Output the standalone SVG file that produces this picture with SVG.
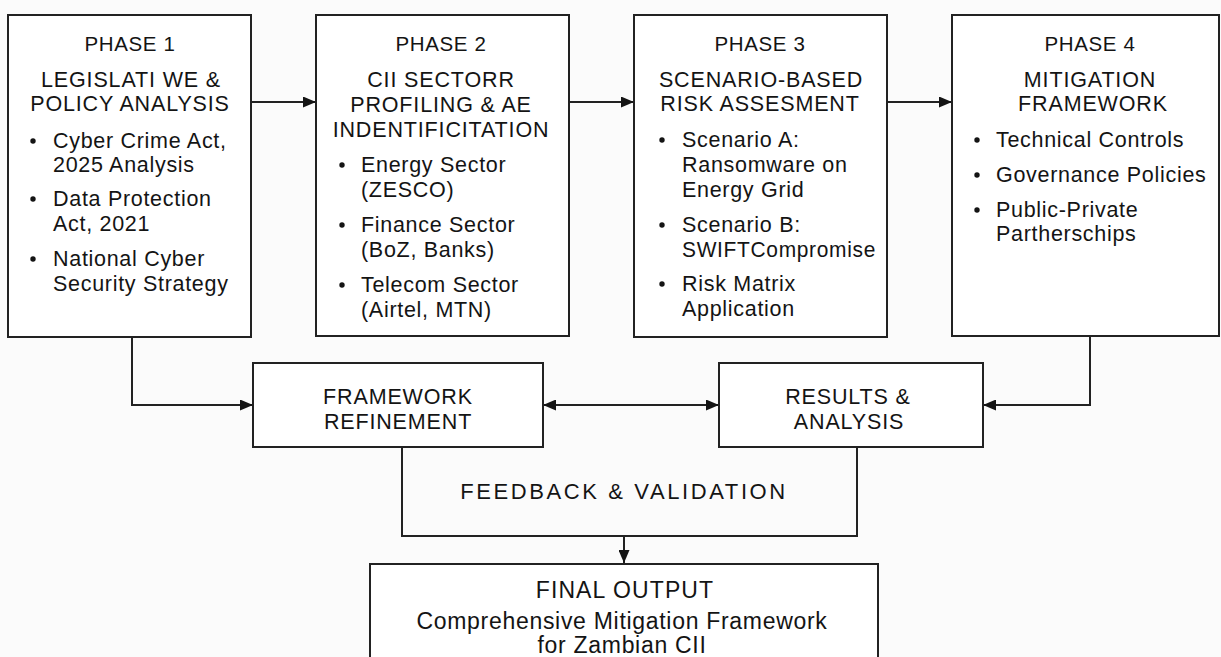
<svg xmlns="http://www.w3.org/2000/svg" width="1221" height="657" viewBox="0 0 1221 657">
  <defs>
    <style>
      .box { fill: #ffffff; stroke: #222222; stroke-width: 2; }
      .wire { fill: none; stroke: #222222; stroke-width: 2; }
      text { font-family: "Liberation Sans", Arial, Helvetica, sans-serif; fill: #141414; }
      .ph { font-size: 20.5px; text-anchor: middle; letter-spacing: 0.6px; }
      .hd { font-size: 21.5px; text-anchor: middle; letter-spacing: 0.85px; }
      .bl { font-size: 21.5px; letter-spacing: 0.7px; }
      .dot { fill: #141414; }
      .fb { font-size: 22px; text-anchor: middle; letter-spacing: 2.6px; }
      .fo { font-size: 23px; text-anchor: middle; letter-spacing: 1.1px; }
      .fo2 { font-size: 23px; text-anchor: middle; letter-spacing: 0.7px; }
    </style>
    <marker id="arr" viewBox="0 0 13 11" refX="13" refY="5.5" markerWidth="13" markerHeight="11" markerUnits="userSpaceOnUse" orient="auto-start-reverse">
      <path d="M0,0 L13,5.5 L0,11 Z" fill="#141414"/>
    </marker>
  </defs>
  <rect width="1221" height="657" fill="#fbfbfb"/>

  <g id="connectors">
    <line class="wire" x1="251" y1="102" x2="316" y2="102" marker-end="url(#arr)"/>
    <line class="wire" x1="569" y1="102" x2="634" y2="102" marker-end="url(#arr)"/>
    <line class="wire" x1="887" y1="102" x2="952" y2="102" marker-end="url(#arr)"/>
    <polyline class="wire" points="132,337 132,405 253,405" marker-end="url(#arr)"/>
    <polyline class="wire" points="1090,336 1090,405 983,405" marker-end="url(#arr)"/>
    <line class="wire" x1="543" y1="405" x2="719" y2="405" marker-start="url(#arr)" marker-end="url(#arr)"/>
    <polyline class="wire" points="402,447 402,536 857,536 857,447"/>
    <line class="wire" x1="624" y1="536" x2="624" y2="563" marker-end="url(#arr)"/>
  </g>

  <g id="phase1">
    <rect class="box" x="8" y="15" width="243" height="322"/>
    <text class="ph" x="130" y="51">PHASE 1</text>
    <text class="hd" x="131" y="87">LEGISLATI WE &amp;</text>
    <text class="hd" x="130" y="111">POLICY ANALYSIS</text>
    <circle class="dot" cx="33" cy="141" r="2.7"/>
    <text class="bl" x="53" y="148">Cyber Crime Act,</text>
    <text class="bl" x="53" y="172">2025 Analysis</text>
    <circle class="dot" cx="33" cy="199" r="2.7"/>
    <text class="bl" x="53" y="206">Data Protection</text>
    <text class="bl" x="53" y="231">Act, 2021</text>
    <circle class="dot" cx="33" cy="259" r="2.7"/>
    <text class="bl" x="53" y="266">National Cyber</text>
    <text class="bl" x="53" y="291">Security Strategy</text>
  </g>

  <g id="phase2">
    <rect class="box" x="316" y="15" width="253" height="321"/>
    <text class="ph" x="441" y="51">PHASE 2</text>
    <text class="hd" x="441" y="87">CII SECTORR</text>
    <text class="hd" x="441" y="112">PROFILING &amp; AE</text>
    <text class="hd" x="441" y="137">INDENTIFICITATION</text>
    <circle class="dot" cx="342" cy="165" r="2.7"/>
    <text class="bl" x="361" y="172">Energy Sector</text>
    <text class="bl" x="361" y="197">(ZESCO)</text>
    <circle class="dot" cx="342" cy="225" r="2.7"/>
    <text class="bl" x="361" y="232">Finance Sector</text>
    <text class="bl" x="361" y="257">(BoZ, Banks)</text>
    <circle class="dot" cx="342" cy="285" r="2.7"/>
    <text class="bl" x="361" y="292">Telecom Sector</text>
    <text class="bl" x="361" y="317">(Airtel, MTN)</text>
  </g>

  <g id="phase3">
    <rect class="box" x="634" y="15" width="253" height="322"/>
    <text class="ph" x="760" y="51">PHASE 3</text>
    <text class="hd" x="761" y="87">SCENARIO-BASED</text>
    <text class="hd" x="760" y="111">RISK ASSESMENT</text>
    <circle class="dot" cx="662" cy="140" r="2.7"/>
    <text class="bl" x="682" y="147">Scenario A:</text>
    <text class="bl" x="682" y="172">Ransomware on</text>
    <text class="bl" x="682" y="197">Energy Grid</text>
    <circle class="dot" cx="662" cy="225" r="2.7"/>
    <text class="bl" x="682" y="232">Scenario B:</text>
    <text class="bl" x="682" y="257" textLength="194" lengthAdjust="spacingAndGlyphs">SWIFTCompromise</text>
    <circle class="dot" cx="662" cy="284" r="2.7"/>
    <text class="bl" x="682" y="291">Risk Matrix</text>
    <text class="bl" x="682" y="316">Application</text>
  </g>

  <g id="phase4">
    <rect class="box" x="952" y="15" width="267" height="321"/>
    <text class="ph" x="1090" y="51">PHASE 4</text>
    <text class="hd" x="1090" y="87">MITIGATION</text>
    <text class="hd" x="1093" y="111">FRAMEWORK</text>
    <circle class="dot" cx="977" cy="140" r="2.7"/>
    <text class="bl" x="996" y="147">Technical Controls</text>
    <circle class="dot" cx="977" cy="175" r="2.7"/>
    <text class="bl" x="996" y="182">Governance Policies</text>
    <circle class="dot" cx="977" cy="210" r="2.7"/>
    <text class="bl" x="996" y="217">Public-Private</text>
    <text class="bl" x="996" y="241">Partherschips</text>
  </g>

  <g id="framework-refinement">
    <rect class="box" x="253" y="363" width="290" height="84"/>
    <text class="hd" x="398" y="404">FRAMEWORK</text>
    <text class="hd" x="398" y="429">REFINEMENT</text>
  </g>

  <g id="results-analysis">
    <rect class="box" x="719" y="363" width="264" height="84"/>
    <text class="hd" x="848" y="404">RESULTS &amp;</text>
    <text class="hd" x="849" y="429">ANALYSIS</text>
  </g>

  <g id="feedback-validation">
    <text class="fb" x="624" y="499">FEEDBACK &amp; VALIDATION</text>
  </g>

  <g id="final-output">
    <rect class="box" x="370" y="564" width="508" height="110"/>
    <text class="fo" x="625" y="598">FINAL OUTPUT</text>
    <text class="fo2" x="622" y="629">Comprehensive Mitigation Framework</text>
    <text class="fo2" x="622" y="653">for Zambian CII</text>
  </g>
</svg>
